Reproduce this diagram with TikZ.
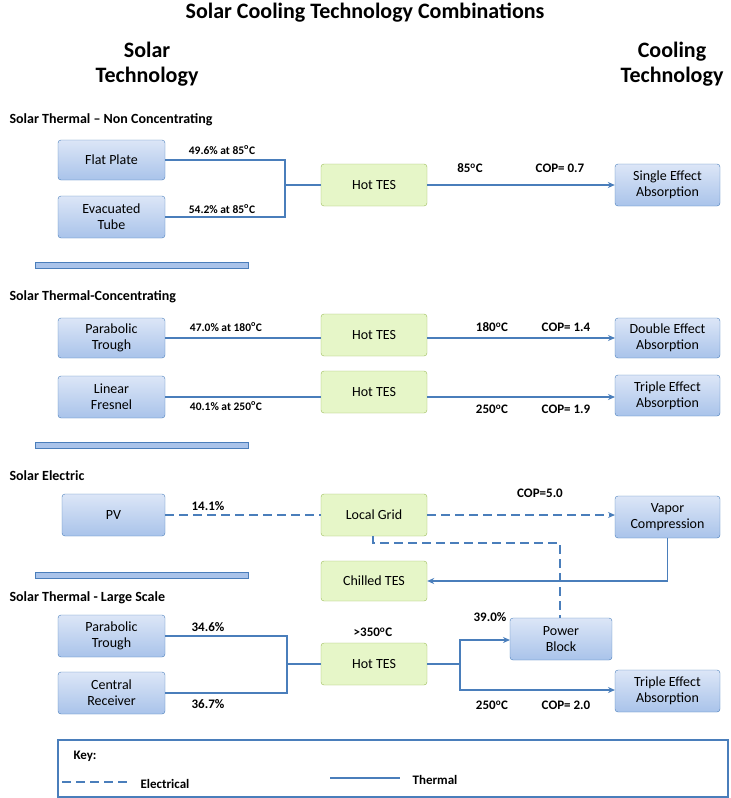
\documentclass[tikz,border=0pt]{standalone}
\usepackage{fontspec}
\setmainfont{Carlito}
\usetikzlibrary{arrows.meta}
\definecolor{ln}{HTML}{4A7EBB}
\definecolor{bt}{HTML}{DCE6F7}
\definecolor{bb}{HTML}{A9C3EA}
\definecolor{gf}{HTML}{E6F6C8}
\definecolor{gd}{HTML}{9BBB59}
\tikzset{
 bx/.style={draw=ln,rounded corners=3pt,top color=bt,bottom color=bb,align=center,font=\fontsize{14}{16}\selectfont,inner sep=0pt},
 gx/.style={draw=gd,rounded corners=3pt,fill=gf,align=center,font=\fontsize{14}{16}\selectfont,inner sep=0pt},
 th/.style={ln,line width=1.2pt},
 el/.style={ln,line width=1.2pt,dash pattern=on 9pt off 5pt},
 ar/.style={-{Stealth[length=7pt,width=6pt]}},
 lb/.style={font=\bfseries\fontsize{13}{14}\selectfont},
 sl/.style={font=\bfseries\fontsize{11.5}{13}\selectfont},
 hd/.style={font=\bfseries\fontsize{14}{15}\selectfont,anchor=west},
 bar/.style={draw=ln,fill=bb,line width=0.6pt}
}
\newcommand{\dg}{\textsuperscript{o}C}
\newcommand{\bxat}[5]{\node[#1,minimum width=#4-#2,minimum height=#5-#3] at ({(#2+#4)/2},{(#3+#5)/2})}
\begin{document}
\begin{tikzpicture}[x=1pt,y=-1pt]
\useasboundingbox (0,0) rectangle (731,798);
\node[font=\bfseries\fontsize{22}{25}\selectfont] (title) at (365,13) {Solar Cooling Technology Combinations};
\node[font=\bfseries\fontsize{22}{25}\selectfont,align=center] (st) at (147,64) {Solar\\Technology};
\node[font=\bfseries\fontsize{22}{25}\selectfont,align=center] (ct) at (672,64) {Cooling\\Technology};
% section 1
\node[hd] (h1) at (6,120) {Solar Thermal -- Non Concentrating};
\bxat{bx}{58}{140}{165}{180} (fp) {Flat Plate};
\bxat{bx}{58}{196}{165}{238} (et) {Evacuated\\Tube};
\bxat{gx}{321}{164}{427}{206} (ht1) {Hot TES};
\bxat{bx}{615}{164}{720}{206} (se) {Single Effect\\Absorption};
\coordinate (j1) at (285,185);
\draw[th] (fp.east) -| (j1);
\draw[th] (et.east) -| (j1);
\draw[th] (j1) -- (ht1.west);
\draw[th,ar] (ht1.east) -- (se.west);
\node[sl] (l1) at (222,150) {49.6\% at 85\dg};
\node[sl] (l2) at (222,209) {54.2\% at 85\dg};
\node[lb] (l3) at (470,168) {85\dg};
\node[lb] (l4) at (560,168) {COP= 0.7};
\draw[bar] (35,262) rectangle (248,268);
% section 2
\node[hd] (h2) at (6,297) {Solar Thermal-Concentrating};
\bxat{bx}{58}{318}{165}{358} (pt1) {Parabolic\\Trough};
\bxat{gx}{321}{314}{427}{356} (ht2) {Hot TES};
\bxat{bx}{615}{318}{720}{358} (de) {Double Effect\\Absorption};
\draw[th] (165,338) -- (321,338);
\draw[th,ar] (427,338) -- (615,338);
\bxat{bx}{58}{376}{165}{418} (lf) {Linear\\Fresnel};
\bxat{gx}{321}{371}{427}{413} (ht3) {Hot TES};
\bxat{bx}{615}{375}{720}{416} (te1) {Triple Effect\\Absorption};
\draw[th] (165,397) -- (321,397);
\draw[th,ar] (427,397) -- (615,397);
\node[sl] (l5) at (226,327) {47.0\% at 180\dg};
\node[lb] (l6) at (492,327) {180\dg};
\node[lb] (l7) at (566,327) {COP= 1.4};
\node[sl] (l8) at (226,406) {40.1\% at 250\dg};
\node[lb] (l9) at (492,409) {250\dg};
\node[lb] (l10) at (566,409) {COP= 1.9};
\draw[bar] (35,442) rectangle (248,448);
% section 3
\node[hd] (h3) at (6,476) {Solar Electric};
\bxat{bx}{62}{494}{165}{536} (pv) {PV};
\bxat{gx}{321}{494}{427}{536} (lg) {Local Grid};
\bxat{bx}{615}{496}{720}{538} (vc) {Vapor\\Compression};
\draw[el] (pv.east) -- (lg.west);
\draw[el,ar] (427,515) -- (615,515);
\node[lb] (l11) at (208,506) {14.1\%};
\node[lb] (l12) at (540,493) {COP=5.0};
\bxat{gx}{321}{561}{427}{601} (cht) {Chilled TES};
\draw[th,ar] (vc.south) |- (cht.east);
\draw[bar] (35,572) rectangle (248,578);
% section 4
\node[hd] (h4) at (6,598) {Solar Thermal - Large Scale};
\bxat{bx}{58}{615}{165}{657} (pt2) {Parabolic\\Trough};
\bxat{bx}{58}{672}{165}{714} (cr) {Central\\Receiver};
\bxat{gx}{321}{643}{427}{685} (ht4) {Hot TES};
\bxat{bx}{510}{618}{612}{660} (pb) {Power\\Block};
\bxat{bx}{615}{670}{720}{712} (te2) {Triple Effect\\Absorption};
\draw[el] (373,536) -- (373,543) -- (560,543) -- (560,618);
\coordinate (j2) at (287,664);
\coordinate (j3) at (460,664);
\draw[th] (pt2.east) -| (j2);
\draw[th] (cr.east) -| (j2);
\draw[th] (j2) -- (ht4.west);
\draw[th] (ht4.east) -- (j3);
\draw[th,ar] (j3) |- (510,640);
\draw[th,ar] (j3) |- (615,690);
\node[lb] (l13) at (208,627) {34.6\%};
\node[lb] (l14) at (208,704) {36.7\%};
\node[lb] (l15) at (373,632) {>350\dg};
\node[lb] (l16) at (490,617) {39.0\%};
\node[lb] (l17) at (492,705) {250\dg};
\node[lb] (l18) at (566,705) {COP= 2.0};
% key
\draw[ln,line width=1.8pt] (58,740) rectangle (728,797);
\node[lb,anchor=west] (k) at (70,756) {Key:};
\draw[el] (62,782) -- (130,782);
\node[lb] (ke) at (165,784) {Electrical};
\draw[th] (330,778) -- (400,778);
\node[lb] (kt) at (435,780) {Thermal};
\end{tikzpicture}
\end{document}
